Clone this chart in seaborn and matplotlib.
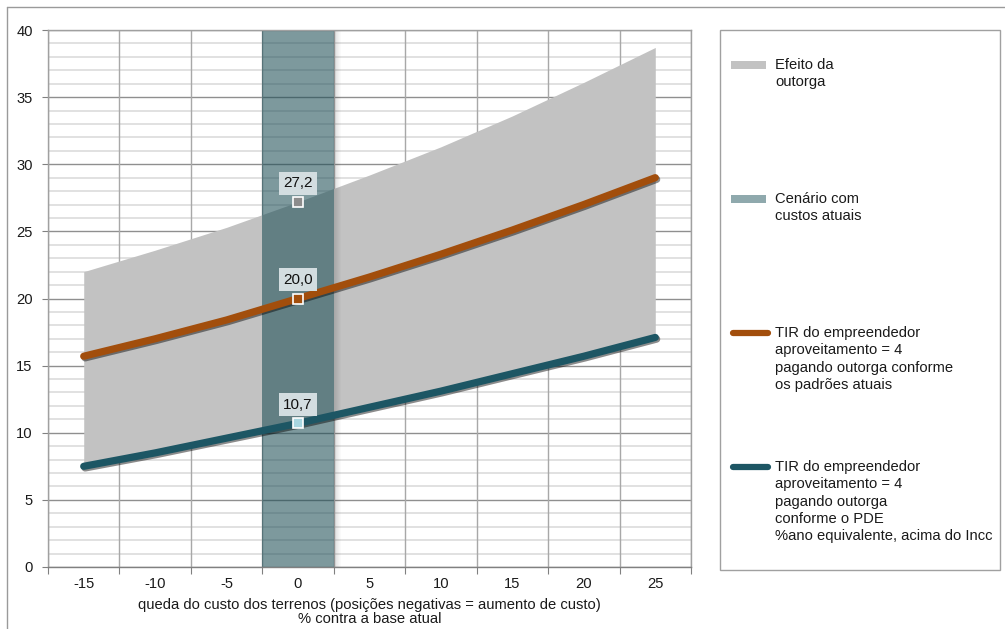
import matplotlib
matplotlib.use("Agg")
import matplotlib.pyplot as plt
import matplotlib.patheffects as pe
from matplotlib.patches import Rectangle
from matplotlib.lines import Line2D
import numpy as np
import pandas as pd
import seaborn as sns

# Land-cost variation (% vs. current base) and developer IRR series
custo = [-15, -10, -5, 0, 5, 10, 15, 20, 25]
tir_sem_outorga = [22.0, 23.6, 25.3, 27.2, 29.2, 31.3, 33.6, 36.1, 38.7]
tir_padroes_atuais = [15.7, 17.0, 18.4, 20.0, 21.6, 23.3, 25.1, 27.0, 29.0]
tir_pde = [7.5, 8.5, 9.6, 10.7, 11.9, 13.1, 14.4, 15.7, 17.1]
cenario_atual = 0
cenario_altura = 40

legenda = [
    "Efeito da\noutorga",
    "Cenário com\ncustos atuais",
    "TIR do empreendedor\naproveitamento = 4\npagando outorga conforme\nos padrões atuais",
    "TIR do empreendedor\naproveitamento = 4\npagando outorga\nconforme o PDE\n%ano equivalente, acima do Incc",
]
xlabel = "queda do custo dos terrenos (posições negativas = aumento de custo)\n% contra a base atual"

df = pd.DataFrame({"custo": custo, "topo": tir_sem_outorga,
                   "atual": tir_padroes_atuais, "pde": tir_pde})

sns.set_theme(style="white")
plt.rcParams["font.family"] = ["Liberation Sans", "DejaVu Sans"]

COR_AREA = "#c2c2c2"
COR_COLUNA = (26 / 255, 76 / 255, 84 / 255)
COR_LARANJA = "#a24e0c"
COR_AZUL = "#1d5664"
TXT = "#1a1a1a"
FS = 10.6

W, H = 1005, 629
fig = plt.figure(figsize=(W / 100, H / 100), dpi=100)
ax = fig.add_axes([48 / W, 1 - 567 / H, (691 - 48) / W, (567 - 30) / H])

# gridlines
ax.set_xlim(-17.5, 27.5)
ax.set_ylim(0, 40)
for y in range(0, 41):
    if y % 5:
        ax.axhline(y, color="#dcdcdc", lw=1.2, zorder=0.5)
    else:
        ax.axhline(y, color="#8f8f8f", lw=1.0, zorder=0.6)
bounds = np.arange(-17.5, 28, 5)
for xb in bounds:
    ax.axvline(xb, color="#a8a8a8", lw=1.0, zorder=0.6)

# band between the two outorga scenarios
ax.fill_between(df["custo"], df["pde"], df["topo"], color=COR_AREA, lw=0, zorder=1)

# current-cost scenario column, with a soft shadow on its right side
ax.bar([cenario_atual], [cenario_altura], width=5, color=COR_COLUNA, alpha=0.57,
       lw=0, zorder=2)
passo = 0.07
for k in range(7):
    ax.add_patch(Rectangle((cenario_atual + 2.5 + k * passo, 0), passo, cenario_altura,
                           fc="black", ec="none", alpha=0.13 * (1 - k / 7), zorder=1.5))

sombra = [pe.SimpleLineShadow(offset=(1.0, -1.2), alpha=0.45, shadow_color="#000000"), pe.Normal()]
sns.lineplot(data=df, x="custo", y="atual", color=COR_LARANJA, lw=5.2, ax=ax, zorder=3,
             solid_capstyle="round", path_effects=sombra)
sns.lineplot(data=df, x="custo", y="pde", color=COR_AZUL, lw=5.2, ax=ax, zorder=3,
             solid_capstyle="round", path_effects=sombra)

# markers and value labels at the current scenario
i0 = custo.index(cenario_atual)
for serie, face in [(tir_sem_outorga, "#8c8c8c"), (tir_padroes_atuais, COR_LARANJA),
                    (tir_pde, "#a8d6e0")]:
    v = serie[i0]
    ax.plot([cenario_atual], [v], marker="s", ms=6.5, mfc=face, mec="white", mew=1.2, zorder=5)
    ax.annotate(f"{v:.1f}".replace(".", ","), (cenario_atual, v), xytext=(0, 13.5),
                textcoords="offset points", ha="center", va="center", fontsize=FS + 0.4,
                color="#111111", zorder=6,
                bbox=dict(boxstyle="square,pad=0.3", fc="#d3dde0", ec="none"))

# axes styling
for s in ax.spines.values():
    s.set_color("#a0a0a0")
    s.set_linewidth(1.0)
    s.set_zorder(7)
ax.spines["bottom"].set_color("#808080")
ax.set_yticks(range(0, 41, 5))
ax.tick_params(axis="y", which="major", length=4, width=0.8, color="#808080",
               pad=7, labelsize=FS, labelcolor=TXT, left=True)
ax.set_xticks(bounds)
ax.set_xticklabels([])
ax.tick_params(axis="x", which="major", length=5, width=0.8, color="#808080", bottom=True)
ax.set_xticks(custo, minor=True)
ax.set_xticklabels([str(c) for c in custo], minor=True)
ax.tick_params(axis="x", which="minor", length=0, pad=7, labelsize=FS, labelcolor=TXT)
ax.set_xlabel(xlabel, fontsize=FS, color=TXT, labelpad=5, linespacing=1.05)
ax.set_ylabel("")
ax.grid(False)

# legend panel
lax = fig.add_axes([0, 0, 1, 1], facecolor="none")
lax.set_xlim(0, W)
lax.set_ylim(H, 0)
lax.axis("off")
lax.add_patch(Rectangle((720, 30), 280, 540, fill=False, ec="#a0a0a0", lw=1.0))
entradas = [
    (65, "patch", COR_AREA),
    (199, "patch", "#8fa9ad"),
    (333, "line", COR_LARANJA),
    (467, "line", COR_AZUL),
]
for (y, tipo, cor), txt in zip(entradas, legenda):
    if tipo == "patch":
        lax.add_patch(Rectangle((731, y - 4), 35, 8, fc=cor, ec="none"))
    else:
        lax.add_line(Line2D([733, 768], [y, y], color=cor, lw=4.5, solid_capstyle="round"))
    lax.text(775, y - 7, txt, ha="left", va="top", fontsize=FS, color=TXT,
             linespacing=1.3)

# outer chart frame
lax.add_line(Line2D([7, W + 5], [7, 7], color="#9a9a9a", lw=1.0))
lax.add_line(Line2D([7, 7], [7, H + 5], color="#9a9a9a", lw=1.0))

fig.savefig("out.png", dpi=100)
